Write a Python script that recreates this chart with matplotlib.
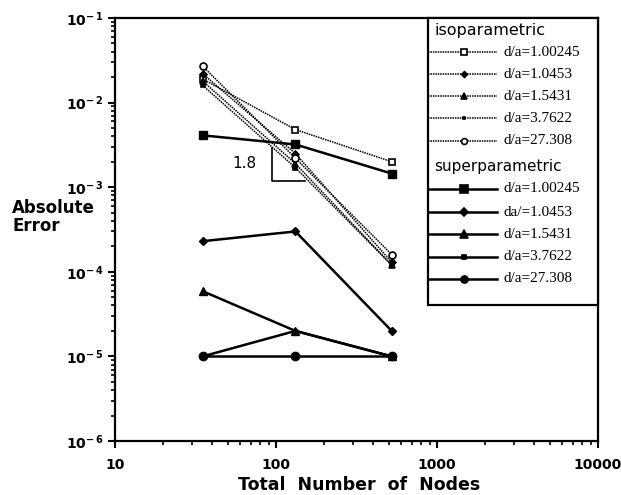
import math
import matplotlib
matplotlib.use("Agg")
import matplotlib.pyplot as plt
from matplotlib.lines import Line2D
from matplotlib.patches import Rectangle
from matplotlib.ticker import LogLocator, FuncFormatter, NullFormatter

# data
nodes = [35, 132, 523]
labels_iso = ["d/a=1.00245", "d/a=1.0453", "d/a=1.5431", "d/a=3.7622", "d/a=27.308"]
labels_sup = ["d/a=1.00245", "da/=1.0453", "d/a=1.5431", "d/a=3.7622", "d/a=27.308"]

iso_100245 = [0.019, 0.0048, 0.0020]
iso_10453 = [0.022, 0.0025, 0.00013]
iso_15431 = [0.018, 0.0019, 0.00012]
iso_37622 = [0.016, 0.0017, 0.00012]
iso_27308 = [0.027, 0.0022, 0.00016]

sup_100245 = [0.0041, 0.0032, 0.00145]
sup_10453 = [2.3e-4, 3.0e-4, 2.0e-5]
sup_15431 = [5.9e-5, 2.0e-5, 1.0e-5]
sup_37622 = [1.0e-5, 2.0e-5, 1.0e-5]
sup_27308 = [1.0e-5, 1.0e-5, 1.0e-5]

iso_series = [iso_100245, iso_10453, iso_15431, iso_37622, iso_27308]
sup_series = [sup_100245, sup_10453, sup_15431, sup_37622, sup_27308]

# marker styles: (marker, size, facecolor)
iso_style = [("s", 5, "white"), ("D", 3.5, "black"), ("^", 4.5, "black"),
             ("s", 2.5, "black"), ("o", 5, "white")]
sup_style = [("s", 6, "black"), ("D", 4.5, "black"), ("^", 6, "black"),
             ("s", 3, "black"), ("o", 6, "black")]
iso_ls = (0, (1, 0.6))

# axes box in pixels (left, top, right, bottom)
L, T, R, B = 115, 18, 598, 441

fig = plt.figure(figsize=(6.21, 4.95), dpi=100)
ax = fig.add_axes([L / 621, 1 - B / 495, (R - L) / 621, (B - T) / 495])

for vals, (m, ms, fc) in zip(iso_series, iso_style):
    ax.plot(nodes, vals, color="black", ls=iso_ls, lw=1.1,
            marker=m, ms=ms, mfc=fc, mec="black", mew=1.2)
for vals, (m, ms, fc) in zip(sup_series, sup_style):
    ax.plot(nodes, vals, color="black", ls="-", lw=1.8,
            marker=m, ms=ms, mfc=fc, mec="black", mew=1)

ax.set_xscale("log")
ax.set_yscale("log")
ax.set_xlim(10, 10000)
ax.set_ylim(1e-6, 1e-1)

# slope indicator
ax.plot([94, 94, 152], [0.0029, 0.00118, 0.00118], color="black", lw=1.2)
ax.text(64, 0.0019, "1.8", fontsize=11, ha="center", va="center")


def yfmt(v, pos):
    e = int(round(math.log10(v)))
    return r"$\mathbf{10^{-\,%d}}$" % (-e)


ax.yaxis.set_major_locator(LogLocator(base=10, numticks=10))
ax.yaxis.set_major_formatter(FuncFormatter(yfmt))
ax.yaxis.set_minor_locator(LogLocator(base=10, subs=range(2, 10), numticks=20))
ax.yaxis.set_minor_formatter(NullFormatter())
ax.xaxis.set_major_formatter(FuncFormatter(lambda v, p: "%d" % round(v)))
ax.xaxis.set_minor_formatter(NullFormatter())

ax.tick_params(which="major", direction="out", length=5, width=1.5,
               labelsize=10, top=False, right=False)
ax.tick_params(axis="x", which="major", pad=7)
ax.tick_params(which="minor", direction="out", length=3, width=1.2,
               top=False, right=False)
for lab in ax.get_xticklabels():
    lab.set_fontweight("bold")
for s in ax.spines.values():
    s.set_linewidth(1.6)

fig.text(359 / 621, 1 - 485 / 495, "Total  Number  of  Nodes", fontsize=12.5,
         fontweight="bold", ha="center", va="center")
fig.text(12 / 621, 1 - 217 / 495, "Absolute\nError", fontsize=12, fontweight="bold",
         ha="left", va="center", linespacing=0.95)


# legend box drawn in axes fraction
def fx(px):
    return (px - L) / (R - L)


def fy(py):
    return (B - py) / (B - T)


ax.add_patch(Rectangle((fx(428), fy(305)), fx(R) - fx(428), fy(T) - fy(305),
                       transform=ax.transAxes, fill=True, fc="white", ec="black",
                       lw=1.6, zorder=5, clip_on=False))
ax.text(fx(434), fy(30), "isoparametric", transform=ax.transAxes, fontsize=11.5,
        ha="left", va="center", zorder=6)
ax.text(fx(434), fy(167), "superparametric", transform=ax.transAxes, fontsize=11,
        ha="left", va="center", zorder=6)
iso_rows = [52, 74, 96, 118, 141]
sup_rows = [189, 212, 234, 257, 279]
for rows, labs, styles, ls, lw in [(iso_rows, labels_iso, iso_style, iso_ls, 1.1),
                                   (sup_rows, labels_sup, sup_style, "-", 1.8)]:
    for r, lab, (m, ms, fc) in zip(rows, labs, styles):
        ax.add_line(Line2D([fx(428), fx(497)], [fy(r), fy(r)], transform=ax.transAxes,
                           color="black", ls=ls, lw=lw, zorder=6, clip_on=False))
        ax.add_line(Line2D([fx(464)], [fy(r)], transform=ax.transAxes, marker=m,
                           ms=ms * 0.85, mfc=fc, mec="black", mew=1.2, ls="none",
                           zorder=7, clip_on=False))
        ax.text(fx(504), fy(r), lab, transform=ax.transAxes, fontsize=11,
                family="Liberation Serif", ha="left", va="center", zorder=6)

fig.savefig("out.png", dpi=100)
